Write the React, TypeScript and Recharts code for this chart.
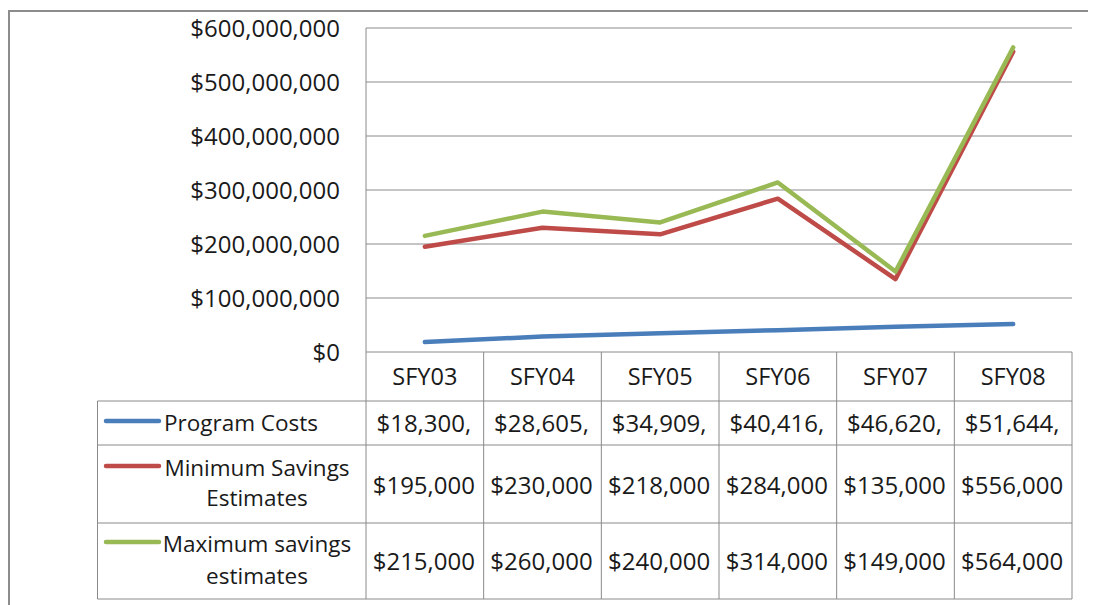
import React from "react";
import { LineChart, Line, XAxis, YAxis, CartesianGrid } from "recharts";

const categories = ["SFY03", "SFY04", "SFY05", "SFY06", "SFY07", "SFY08"];
const programCosts = [18300000, 28605000, 34909000, 40416000, 46620000, 51644000];
const minSavings = [195000000, 230000000, 218000000, 284000000, 135000000, 556000000];
const maxSavings = [215000000, 260000000, 240000000, 314000000, 149000000, 564000000];
const yTicks = [0, 100000000, 200000000, 300000000, 400000000, 500000000, 600000000];

const seriesNames = ["Program Costs", "Minimum Savings Estimates", "Maximum savings estimates"];
const seriesLegendLines = [["Program Costs"], ["Minimum Savings", "Estimates"], ["Maximum savings", "estimates"]];
const seriesColors = ["#4A7EBB", "#BE4B48", "#98B954"];
const seriesKeys = ["program", "min", "max"];
const seriesValues = [programCosts, minSavings, maxSavings];

const data = categories.map((c, i) => ({
  cat: c,
  program: programCosts[i],
  min: minSavings[i],
  max: maxSavings[i],
}));

const W = 1088;
const H = 597;
const PL = 358;
const PR = 1064;
const PT = 20;
const PB = 344;
const COLW = (PR - PL) / categories.length;
const FONT = "'Open Sans', 'Noto Sans', sans-serif";
const GRID = "#8a8a8a";
const TEXT = "#1a1a1a";

const money = (v: number) => "$" + v.toLocaleString("en-US");
// Excel clipped the cell text to what fits in the column
const clip = (v: number) => money(v).slice(0, 8);

const rowTops = [344, 393, 437, 515, 591];
const tableLeft = 89.5;

function TableOverlay() {
  const els: React.ReactNode[] = [];
  for (let i = 0; i <= categories.length; i++) {
    const x = PL + i * COLW;
    els.push(<line key={"hv" + i} x1={x} x2={x} y1={rowTops[0]} y2={rowTops[4]} stroke={GRID} strokeWidth={1} />);
  }
  for (let r = 1; r < rowTops.length; r++) {
    els.push(<line key={"h" + r} x1={tableLeft} x2={PR} y1={rowTops[r]} y2={rowTops[r]} stroke={GRID} strokeWidth={1} />);
  }
  els.push(<line key="lv" x1={tableLeft} x2={tableLeft} y1={rowTops[1]} y2={rowTops[4]} stroke={GRID} strokeWidth={1} />);
  categories.forEach((c, i) => {
    els.push(
      <text key={"ht" + i} x={PL + (i + 0.5) * COLW} y={368} textAnchor="middle" dominantBaseline="central" fontSize={23.5} fontFamily={FONT} fill={TEXT}>
        {c}
      </text>
    );
  });
  const valueY = [414, 476, 552];
  const legendLineY = [413, 458, 534];
  const legendTextY = [[414], [459, 489], [535, 567]];
  seriesNames.forEach((name, s) => {
    els.push(
      <line key={"ll" + s} x1={98} x2={151} y1={legendLineY[s]} y2={legendLineY[s]} stroke={seriesColors[s]} strokeWidth={4.5} strokeLinecap="round" />
    );
    const lines = seriesLegendLines[s];
    lines.forEach((t, k) => {
      els.push(
        <text
          key={"lt" + s + "-" + k}
          x={lines.length === 1 ? 156 : 249}
          y={legendTextY[s][k]}
          textAnchor={lines.length === 1 ? "start" : "middle"}
          dominantBaseline="central"
          fontSize={22.5}
          fontFamily={FONT}
          fill={TEXT}
        >
          {t}
        </text>
      );
    });
    seriesValues[s].forEach((v, i) => {
      els.push(
        <text key={"v" + s + "-" + i} x={PL + (i + 0.5) * COLW - 1} y={valueY[s]} textAnchor="middle" dominantBaseline="central" fontSize={24} fontFamily={FONT} fill={TEXT}>
          {clip(v)}
        </text>
      );
    });
  });
  return (
    <svg width={W} height={H} style={{ position: "absolute", left: 0, top: 0, pointerEvents: "none" }}>
      {els}
    </svg>
  );
}

export default function App() {
  return (
    <div style={{ position: "relative", width: W, height: H, overflow: "hidden", background: "#fff" }}>
      <div
        style={{
          position: "absolute",
          left: 0,
          top: 2,
          width: W + 20,
          height: H + 20,
          borderLeft: "2px solid #8c8c8c",
          borderTop: "2px solid #8c8c8c",
          boxSizing: "border-box",
        }}
      />
      <div style={{ position: "absolute", left: 0, top: 0 }}>
        <LineChart width={W} height={H} data={data} margin={{ top: PT, right: W - PR, left: 0, bottom: H - PB }}>
          <CartesianGrid horizontal={true} vertical={false} stroke={GRID} strokeDasharray="" />
          <XAxis dataKey="cat" hide padding={{ left: COLW / 2, right: COLW / 2 }} />
          <YAxis
            width={PL}
            domain={[0, 600000000]}
            ticks={yTicks}
            interval={0}
            tickFormatter={(v: number) => money(v)}
            tickSize={0}
            tickMargin={26}
            tickLine={false}
            axisLine={{ stroke: GRID }}
            tick={{ fill: TEXT, fontSize: 24, fontFamily: FONT }}
          />
          {seriesKeys.map((k, s) => (
            <Line
              key={k}
              dataKey={k}
              name={seriesNames[s]}
              stroke={seriesColors[s]}
              strokeWidth={4.5}
              strokeLinecap="round"
              strokeLinejoin="round"
              dot={false}
              activeDot={false}
              isAnimationActive={false}
            />
          ))}
        </LineChart>
      </div>
      <TableOverlay />
    </div>
  );
}
